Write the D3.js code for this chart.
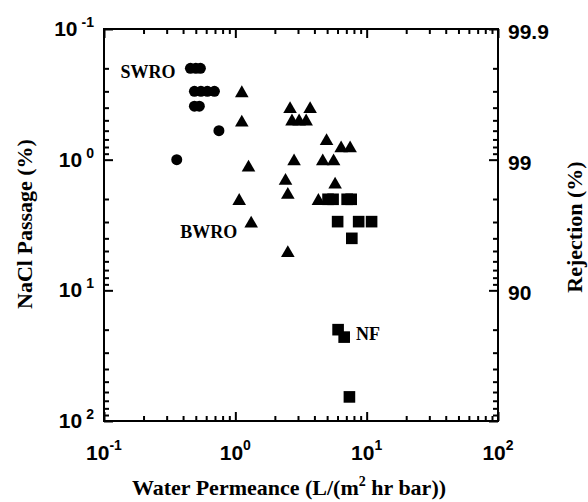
<!DOCTYPE html>
<html>
<head>
<meta charset="utf-8">
<script src="https://cdn.jsdelivr.net/npm/d3@7"></script>
<style>
  body { margin: 0; background: #fff; }
</style>
</head>
<body>
<svg id="chart"></svg>
<script>
// water permeance (L/(m2 hr bar)) and NaCl passage (%)
const swroPermeance = [0.455, 0.50, 0.542, 0.488, 0.547, 0.612, 0.693, 0.488, 0.532, 0.75, 0.358];
const swroPassage   = [0.2, 0.2, 0.2, 0.3, 0.3, 0.3, 0.3, 0.39, 0.39, 0.6, 1.0];

const bwroPermeance = [1.12, 1.12, 1.26, 1.07, 1.32, 2.61, 3.71, 2.70, 3.06, 3.46, 4.95,
                       6.39, 7.48, 2.80, 4.63, 5.60, 2.41, 5.75, 2.51, 4.29, 2.51];
const bwroPassage   = [0.31, 0.52, 1.15, 2.07, 3.08, 0.41, 0.41, 0.51, 0.51, 0.51, 0.72,
                       0.82, 0.82, 1.03, 1.03, 1.03, 1.45, 1.55, 1.86, 2.07, 5.18];

const nfPermeance = [5.08, 5.55, 7.10, 7.62, 6.01, 8.69, 10.9, 7.71, 6.06, 6.74, 7.39];
const nfPassage   = [2.01, 2.01, 2.01, 2.01, 2.98, 2.98, 2.98, 4.0, 20.0, 22.8, 65.4];

const xMajor = [0.1, 1, 10, 100];
const xExponents = ["-1", "0", "1", "2"];
const yMajor = [0.1, 1, 10, 100];
const yExponents = ["-1", "0", "1", "2"];
const rejectionTicks = [0.1, 1, 10];
const rejectionLabels = ["99.9", "99", "90"];

const groups = [
    { xs: swroPermeance, ys: swroPassage, symbol: d3.symbolCircle, size: 95,
      label: "SWRO", lx: 0.35, ly: 0.215, anchor: "end" },
    { xs: bwroPermeance, ys: bwroPassage, symbol: d3.symbolTriangle, size: 80,
      label: "BWRO", lx: 0.38, ly: 3.57, anchor: "start" },
    { xs: nfPermeance, ys: nfPassage, symbol: d3.symbolSquare, size: 135,
      label: "NF", lx: 8.3, ly: 21.6, anchor: "start" }
];

const width = 588;
const height = 502;
const sansFont = "'Liberation Sans', Arial, sans-serif";
const serifFont = "'Liberation Serif', 'Times New Roman', serif";

const svg = d3.select("#chart")
    .attr("width", width)
    .attr("height", height)
    .style("font-weight", "bold");

const x = d3.scaleLog().domain([0.1, 100]).range([104, 498]);
const y = d3.scaleLog().domain([0.1, 100]).range([29, 421]);

const xMinor = x.ticks().filter(v => !xMajor.some(m => Math.abs(m - v) < 1e-9));
const yMinor = y.ticks().filter(v => !yMajor.some(m => Math.abs(m - v) < 1e-9));

// inward ticks on all four sides
function drawTicks(axis, transform, values, len) {
    svg.append("g")
        .attr("transform", transform)
        .call(axis.tickValues(values).tickSize(-len).tickFormat(""))
        .call(g => g.select(".domain").remove())
        .call(g => g.selectAll(".tick line").attr("stroke", "#000").attr("stroke-width", 2));
}

drawTicks(d3.axisBottom(x), `translate(0,${y.range()[1]})`, xMajor, 9);
drawTicks(d3.axisBottom(x), `translate(0,${y.range()[1]})`, xMinor, 5);
drawTicks(d3.axisTop(x), `translate(0,${y.range()[0]})`, xMajor, 9);
drawTicks(d3.axisTop(x), `translate(0,${y.range()[0]})`, xMinor, 5);
drawTicks(d3.axisLeft(y), `translate(${x.range()[0]},0)`, yMajor, 9);
drawTicks(d3.axisLeft(y), `translate(${x.range()[0]},0)`, yMinor, 5);
drawTicks(d3.axisRight(y), `translate(${x.range()[1]},0)`, yMajor, 9);
drawTicks(d3.axisRight(y), `translate(${x.range()[1]},0)`, yMinor, 5);

// frame
svg.append("rect")
    .attr("x", x.range()[0])
    .attr("y", y.range()[0])
    .attr("width", x.range()[1] - x.range()[0])
    .attr("height", y.range()[1] - y.range()[0])
    .attr("fill", "none")
    .attr("stroke", "#000")
    .attr("stroke-width", 2);

// bottom tick labels 10^n
const xLab = svg.append("g")
    .selectAll("text")
    .data(xMajor)
    .join("text")
    .attr("x", d => x(d))
    .attr("y", 460)
    .attr("text-anchor", "middle")
    .attr("font-family", sansFont)
    .attr("font-size", "21px");
xLab.append("tspan").text("10");
xLab.append("tspan")
    .attr("font-size", "14px")
    .attr("dy", -10)
    .text((d, i) => xExponents[i]);

// left tick labels 10^n
const yLab = svg.append("g")
    .selectAll("text")
    .data(yMajor)
    .join("text")
    .attr("x", 94)
    .attr("y", d => y(d) + 7)
    .attr("text-anchor", "end")
    .attr("font-family", sansFont)
    .attr("font-size", "21px");
yLab.append("tspan").text("10");
yLab.append("tspan")
    .attr("font-size", "14px")
    .attr("dx", 4)
    .attr("dy", -9)
    .text((d, i) => yExponents[i]);

// right tick labels (rejection)
svg.append("g")
    .selectAll("text")
    .data(rejectionTicks)
    .join("text")
    .attr("x", 508)
    .attr("y", d => y(d) + 10)
    .attr("font-family", sansFont)
    .attr("font-size", "21px")
    .text((d, i) => rejectionLabels[i]);

// axis titles
const xTitle = svg.append("text")
    .attr("x", 289)
    .attr("y", 495)
    .attr("text-anchor", "middle")
    .attr("font-family", serifFont)
    .attr("font-size", "22px");
xTitle.append("tspan").text("Water Permeance (L/(m");
xTitle.append("tspan").attr("font-size", "14px").attr("dy", -9).text("2");
xTitle.append("tspan").attr("dy", 9).text(" hr bar))");

svg.append("text")
    .attr("transform", "translate(32,224) rotate(-90)")
    .attr("text-anchor", "middle")
    .attr("font-family", serifFont)
    .attr("font-size", "22px")
    .text("NaCl Passage (%)");

svg.append("text")
    .attr("transform", "translate(582,227) rotate(-90)")
    .attr("text-anchor", "middle")
    .attr("font-family", serifFont)
    .attr("font-size", "22px")
    .text("Rejection (%)");

// markers
groups.forEach(grp => {
    const pts = grp.xs.map((v, i) => ({ px: v, py: grp.ys[i] }));
    svg.append("g")
        .selectAll("path")
        .data(pts)
        .join("path")
        .attr("transform", d => `translate(${x(d.px)},${y(d.py)})`)
        .attr("d", d3.symbol().type(grp.symbol).size(grp.size))
        .attr("fill", "#000");

    svg.append("text")
        .attr("x", x(grp.lx))
        .attr("y", y(grp.ly) + 6)
        .attr("text-anchor", grp.anchor)
        .attr("font-family", serifFont)
        .attr("font-size", "18px")
        .text(grp.label);
});
</script>
</body>
</html>
